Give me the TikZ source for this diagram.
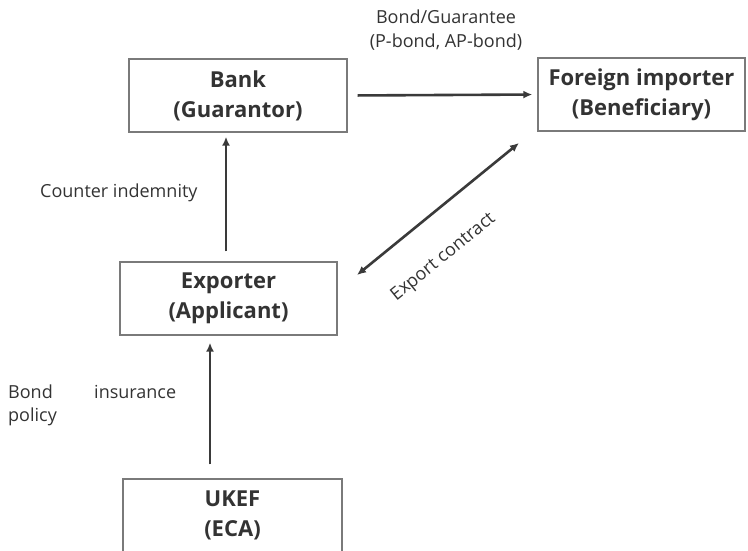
\documentclass[tikz,border=0pt]{standalone}
\usepackage{fontspec}
\setmainfont{Open Sans}
\usetikzlibrary{arrows.meta}
\definecolor{ink}{HTML}{333333}
\definecolor{frame}{HTML}{7A7A7A}
\definecolor{wire}{HTML}{3A3A3A}
\tikzset{
  party/.style={draw=frame, line width=1.4pt, fill=white, minimum height=73pt,
    align=center, text=ink, font=\fontsize{22}{30}\selectfont\bfseries, inner sep=0pt},
  flow/.style={draw=wire, line width=2.6pt, -{Latex[length=9pt,width=8pt]}},
  both/.style={draw=wire, line width=2.6pt, {Latex[length=9pt,width=8pt]}-{Latex[length=9pt,width=8pt]}},
  lbl/.style={text=ink, font=\fontsize{18}{24}\selectfont, inner sep=0pt, align=center}
}
\begin{document}
\begin{tikzpicture}[x=1pt,y=-1pt]
  \useasboundingbox (0,0) rectangle (748,550);
  \fill[white] (0,0) rectangle (748,550);

  % parties
  \node[party, minimum width=218pt] (bank) at (238,95.5) {Bank\\(Guarantor)};
  \node[party, minimum width=207pt] (importer) at (641.5,94.5) {Foreign importer\\(Beneficiary)};
  \node[party, minimum width=217pt] (exporter) at (228.5,298.5) {Exporter\\(Applicant)};
  \begin{scope}
    \clip (0,0) rectangle (748,550);
    \node[party, minimum width=219pt] (ukef) at (232.5,515.5) {UKEF\\(ECA)};
  \end{scope}

  % guides for the vertical connectors
  \coordinate (colA) at (226,0);
  \coordinate (colB) at (210,0);
  \coordinate (ecX) at (357,275);
  \coordinate (ecI) at (519,143);

  % connectors
  \draw[flow, shorten <=10pt, shorten >=5pt] (bank.east) -- (importer.west);
  \draw[flow, shorten <=10pt, shorten >=4pt] (exporter.north -| colA) -- (bank.south -| colA);
  \draw[flow, shorten <=14pt, shorten >=7pt] (ukef.north -| colB) -- (exporter.south -| colB);
  \draw[both] (ecX) -- (ecI);

  % labels
  \node[lbl] (bg) at (446,30) {Bond/Guarantee\\(P-bond, AP-bond)};
  \node[lbl, anchor=west] (ci) at (40,193) {Counter indemnity};
  \node[lbl, rotate=39] (ec) at (443.5,257.5) {Export contract};
  \node[lbl, anchor=west] (bo) at (8,392) {Bond};
  \node[lbl, anchor=west] (po) at (8,417) {policy};
  \node[lbl, anchor=west] (ins) at (94,392) {insurance};
\end{tikzpicture}
\end{document}
